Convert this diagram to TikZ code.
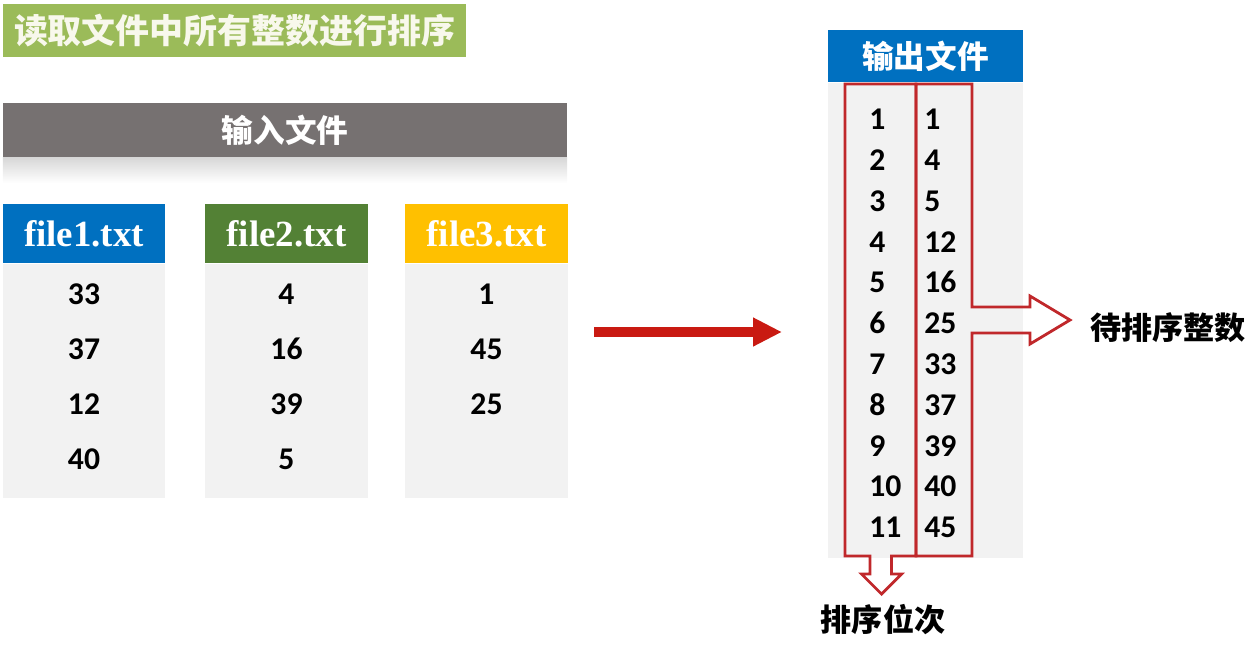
\documentclass[tikz,border=0pt]{standalone}
\usepackage{fontspec}
\usepackage{xcolor}
\usepackage{tikz}
\usetikzlibrary{positioning,arrows.meta}
\newfontfamily\cjkfont{Noto Sans CJK SC}
\newfontfamily\numfont{Carlito}
\newfontfamily\filefont{Liberation Serif}
\definecolor{titlegreen}{HTML}{9BBB59}
\definecolor{titletext}{HTML}{F8F8EC}
\definecolor{inputgray}{HTML}{767171}
\definecolor{fileblue}{HTML}{0070C0}
\definecolor{filegreen}{HTML}{538135}
\definecolor{fileamber}{HTML}{FFC000}
\definecolor{paleback}{HTML}{F2F2F2}
\definecolor{arrowred}{HTML}{C91A12}
\definecolor{framered}{HTML}{C0282B}

\begin{document}
\begin{tikzpicture}[
  banner/.style={minimum height=1.08cm, inner sep=0pt, text=white, font=\cjkfont\bfseries\fontsize{18pt}{20pt}\selectfont},
  filehead/.style={minimum width=3.25cm, minimum height=1.18cm, inner sep=0pt, text=white, font=\filefont\bfseries\fontsize{21pt}{24pt}\selectfont},
  filebody/.style={fill=paleback, minimum width=3.25cm, minimum height=4.68cm, inner sep=0pt},
  numcol/.style={inner sep=0pt, align=center, font=\numfont\bfseries\fontsize{18pt}{31.4pt}\selectfont},
  outcol/.style={inner sep=0pt, align=left, anchor=north west, font=\numfont\bfseries\fontsize{18pt}{23.2pt}\selectfont},
  redframe/.style={draw=framered, line width=1.6pt, line join=miter},
  bigarrow/.style={-{Triangle[length=0.58cm, width=0.54cm]}, line width=0.2cm, draw=arrowred},
  sidetext/.style={inner sep=0pt, font=\cjkfont\bfseries\fontsize{17.7pt}{20pt}\selectfont}
]
\useasboundingbox (0,0) rectangle (25.08,-12.92);
% input side
\node[banner, fill=titlegreen, text=titletext, minimum width=9.26cm, minimum height=1.06cm, font=\cjkfont\bfseries\fontsize{19.3pt}{21pt}\selectfont] (title) at (4.69,-0.61) {读取文件中所有整数进行排序};
\fill[top color=black!16, bottom color=white] (0.06,-3.14) rectangle (11.34,-3.66);
\node[banner, fill=inputgray, minimum width=11.28cm] (inhead) at (5.70,-2.60) {输入文件};
\node[filehead, fill=fileblue] (head1) at (1.68,-4.67) {file1.txt};
\node[filehead, fill=filegreen] (head2) at (5.73,-4.67) {file2.txt};
\node[filehead, fill=fileamber] (head3) at (9.73,-4.67) {file3.txt};
\node[filebody, below=0cm of head1] (body1) {};
\node[filebody, below=0cm of head2] (body2) {};
\node[filebody, below=0cm of head3] (body3) {};
\node[numcol, below=0.4cm of body1.north] (nums1) {33\\37\\12\\40};
\node[numcol, below=0.4cm of body2.north] (nums2) {4\\16\\39\\5};
\node[numcol, below=0.4cm of body3.north] (nums3) {1\\45\\25};
% output side
\node[banner, fill=fileblue, minimum width=3.90cm, minimum height=1.04cm] (outhead) at (18.51,-1.12) {输出文件};
\node[filebody, minimum width=3.90cm, minimum height=9.50cm, below=0cm of outhead] (outbody) {};
\node[outcol] (rank) at (17.38,-2.18) {1\\2\\3\\4\\5\\6\\7\\8\\9\\10\\11};
\node[outcol] (vals) at (18.48,-2.18) {1\\4\\5\\12\\16\\25\\33\\37\\39\\40\\45};
\draw[redframe] (16.90,-1.68) -- (18.32,-1.68) -- (18.32,-11.12) -- (17.83,-11.12) -- (17.83,-11.48)
  -- (18.03,-11.48) -- (17.63,-11.88) -- (17.23,-11.48) -- (17.40,-11.48) -- (17.40,-11.12) -- (16.90,-11.12) -- cycle;
\draw[redframe] (18.32,-1.68) -- (19.44,-1.68) -- (19.44,-6.14) -- (20.60,-6.14) -- (20.60,-5.92)
  -- (21.40,-6.40) -- (20.60,-6.88) -- (20.60,-6.66) -- (19.44,-6.66) -- (19.44,-11.12) -- (18.32,-11.12) -- cycle;
\node[sidetext, anchor=west] (valtext) at (21.80,-6.56) {待排序整数};
\node[sidetext] (ranktext) at (17.66,-12.40) {排序位次};
% main arrow
\coordinate (from) at (11.88,-6.64);
\coordinate (to) at (15.64,-6.64);
\draw[bigarrow] (from) -- (to);
\end{tikzpicture}
\end{document}
